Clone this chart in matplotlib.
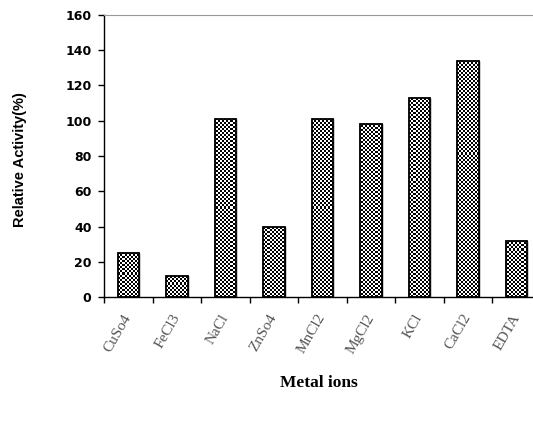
import numpy as np
import matplotlib
matplotlib.use("Agg")
import matplotlib.pyplot as plt

# data
salts = ["CuSo4", "FeCl3", "NaCl", "ZnSo4", "MnCl2", "MgCl2", "KCl", "CaCl2", "EDTA"]
activity = [25, 12, 101, 40, 101, 98, 113, 134, 32]
y_ticks = [0, 20, 40, 60, 80, 100, 120, 140, 160]

fig = plt.figure(figsize=(5.33, 4.25), dpi=100)
# plot area runs past the right edge, like the cropped original
ax = fig.add_axes([104 / 533, 1 - 297 / 425, 437 / 533, 282 / 425])

x = np.arange(len(salts))
bars = ax.bar(x, activity, width=0.44, color="white", edgecolor="black", linewidth=1.0, zorder=2)

ax.set_xlim(-0.5, len(salts) - 0.5)
ax.set_ylim(0, 160)

# checkerboard fill, clipped to every bar
ny, nx = 141, 219
checker = (np.add.outer(np.arange(ny), np.arange(nx)) % 2).astype(float)
for b in bars:
    im = ax.imshow(checker, cmap="gray", interpolation="nearest", aspect="auto",
                   extent=(-0.5, len(salts) - 0.5, 0, 160), zorder=2.5, vmin=0, vmax=1)
    im.set_clip_path(b)
    # draw the outline again on top
    ax.add_patch(plt.Rectangle(b.get_xy(), b.get_width(), b.get_height(),
                               fill=False, edgecolor="black", linewidth=1.3, zorder=3))

ax.spines["right"].set_visible(False)
ax.spines["top"].set_color("#999999")
ax.spines["left"].set_linewidth(1.0)
ax.spines["bottom"].set_linewidth(1.0)

ax.set_yticks(y_ticks)
ax.set_yticklabels([str(v) for v in y_ticks], fontsize=9, fontweight="bold", family="DejaVu Sans")
ax.tick_params(axis="y", direction="out", length=4, width=1, pad=5)

# boundary ticks as major, labels on minor ticks at bar centres
ax.set_xticks(np.arange(-0.5, len(salts) + 0.5, 1))
ax.set_xticklabels([])
ax.tick_params(axis="x", which="major", direction="out", length=4, width=1)
ax.set_xticks(x, minor=True)
ax.set_xticklabels(salts, minor=True, rotation=60, ha="right", va="center", rotation_mode="anchor",
                   fontsize=11, family="Liberation Serif", color="#555555")
ax.tick_params(axis="x", which="minor", length=0, pad=13)

fig.text(20 / 533, 1 - 160 / 425, "Relative Activity(%)", rotation=90, ha="center", va="center",
         fontsize=10.5, fontweight="bold", family="Liberation Sans")
fig.text(319 / 533, 1 - 383 / 425, "Metal ions", ha="center", va="center",
         fontsize=12.5, fontweight="bold", family="Liberation Serif")

fig.savefig("out.png", dpi=100)
